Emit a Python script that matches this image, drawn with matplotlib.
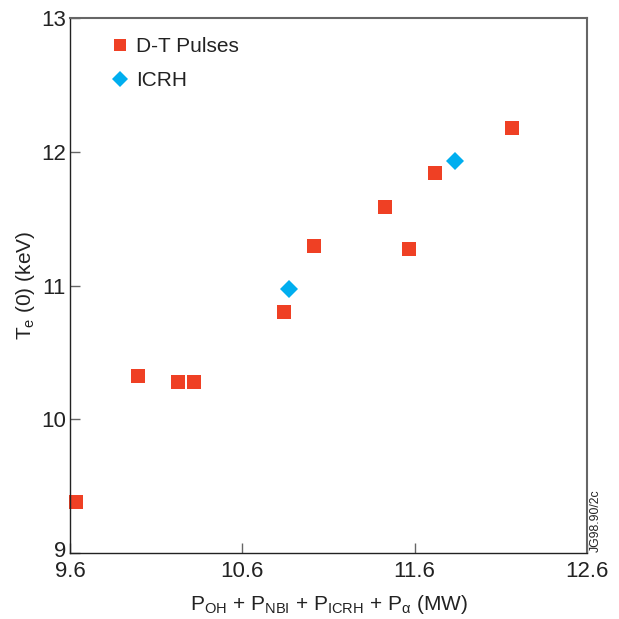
import matplotlib
matplotlib.use('Agg')
import matplotlib.pyplot as plt
from matplotlib.transforms import ScaledTranslation

plt.rcParams['font.family'] = ['Liberation Sans', 'DejaVu Sans']
plt.rcParams['mathtext.fontset'] = 'custom'
plt.rcParams['mathtext.rm'] = 'Liberation Sans'
plt.rcParams['mathtext.it'] = 'Liberation Sans'

# D-T pulses (power in MW, central electron temperature in keV)
dt_power = [9.635, 9.993, 10.225, 10.32, 10.844, 11.014, 11.428, 11.567, 11.72, 12.165]
dt_te = [9.384, 10.323, 10.281, 10.281, 10.80, 11.298, 11.585, 11.273, 11.839, 12.175]

# ICRH
icrh_power = [10.873, 11.836]
icrh_te = [10.974, 11.931]

x_ticks = [9.6, 10.6, 11.6, 12.6]
y_ticks = [9, 10, 11, 12, 13]

red = '#EF4024'
blue = '#00AEEF'
txt = '#222222'

fig = plt.figure(figsize=(6.19, 6.19), dpi=100)
ax = fig.add_axes([70 / 619, 1 - 553 / 619, 517 / 619, 535 / 619])

ax.plot(dt_power, dt_te, 's', color=red, markersize=10, markeredgewidth=0,
        label='D-T Pulses', clip_on=False)
ax.plot(icrh_power, icrh_te, 'D', color=blue, markersize=9.5, markeredgewidth=0,
        label='ICRH', clip_on=False)

ax.set_xlim(9.6, 12.6)
ax.set_ylim(9, 13)
ax.set_xticks(x_ticks)
ax.set_xticklabels([str(v) for v in x_ticks])
ax.set_yticks(y_ticks)
ax.set_yticklabels([str(v) for v in y_ticks])
ax.tick_params(direction='in', length=7, width=1, color='#666666',
               labelsize=16, labelcolor=txt)
ax.tick_params(axis='x', pad=6)
ax.tick_params(axis='y', pad=3)

# lift the bottom y label a little so it clears "9.6"
lbl = ax.get_yticklabels()[0]
lbl.set_transform(lbl.get_transform() + ScaledTranslation(0, 4 / 100, fig.dpi_scale_trans))

for side in ['left', 'bottom']:
    ax.spines[side].set_color(txt)
    ax.spines[side].set_linewidth(1)
for side in ['top', 'right']:
    ax.spines[side].set_color('#666666')
    ax.spines[side].set_linewidth(1.5)

ax.set_xlabel(r'P$_{\mathregular{OH}}$ + P$_{\mathregular{NBI}}$ + P$_{\mathregular{ICRH}}$ + P$_{\alpha}$ (MW)',
              fontsize=15, color=txt, labelpad=8)
ax.set_ylabel(r'T$_{\mathregular{e}}$ (0) (keV)', fontsize=15, color=txt, labelpad=3)

ax.legend(loc='upper left', bbox_to_anchor=(0.076, 0.964), frameon=False,
          fontsize=15, handletextpad=0.3, labelspacing=0.7, handlelength=1.0,
          borderpad=0, borderaxespad=0, markerscale=0.85, labelcolor=txt)

fig.text(590 / 619, 1 - 552 / 619, 'JG98.90/2c', rotation=90, fontsize=8.8,
         color=txt, ha='left', va='bottom')

fig.savefig('out.png', dpi=100)
